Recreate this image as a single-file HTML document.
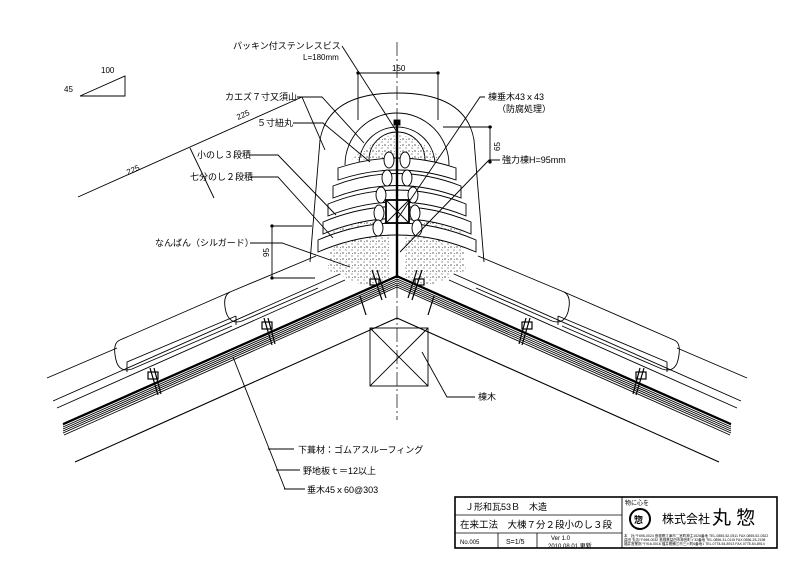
<!DOCTYPE html>
<html><head><meta charset="utf-8"><style>
html,body{margin:0;padding:0;background:#fff;}
svg{display:block;}
text{font-family:"Liberation Sans","Noto Sans CJK JP",sans-serif;fill:#000;}
</style></head><body>
<svg width="800" height="566" viewBox="0 0 800 566" xmlns="http://www.w3.org/2000/svg">
<defs>
<pattern id="dots" width="6" height="6" patternUnits="userSpaceOnUse">
<circle cx="1" cy="1" r="0.6" fill="#000"/><circle cx="4" cy="4" r="0.5" fill="#000"/><circle cx="4.5" cy="1.5" r="0.4" fill="#000"/>
</pattern>
<g id="half" stroke="#000" fill="none" stroke-width="0.9">
 <g stroke-width="0.9">
  <line x1="63" y1="425" x2="397" y2="277"/>
  <line x1="63" y1="427" x2="397" y2="279"/>
  <line x1="63" y1="429" x2="397" y2="281"/>
  <line x1="63" y1="431" x2="397" y2="283"/>
  <line x1="63" y1="433" x2="397" y2="285"/>
  <line x1="64" y1="435" x2="397" y2="287"/>
 </g>
 <line x1="63" y1="424" x2="397" y2="276" stroke-width="2"/>
 <line x1="75" y1="462" x2="397" y2="318" stroke-width="1.1"/>
 <line x1="53" y1="401" x2="340" y2="274"/>
 <line x1="57" y1="408" x2="345" y2="280"/>
 <line x1="47" y1="378" x2="117" y2="348"/>
 <path d="M120 340 Q112 343 116 360 Q119 373 132 369 L232 326"/>
 <line x1="120" y1="340" x2="230" y2="292"/>
 <path d="M127 372 L127 362 L236 316"/>
 <path d="M230 292 Q222 296 226 312 Q230 325 242 321 L318 288"/>
 <path d="M236 325 L236 316"/>
 <line x1="230" y1="292" x2="316" y2="256"/>
 <g stroke-width="1.2">
  <rect x="148" y="372" width="10" height="7"/>
  <line x1="150" y1="368" x2="158" y2="395"/><line x1="154" y1="368" x2="161" y2="394"/>
  <rect x="262" y="322" width="10" height="7"/>
  <line x1="264" y1="318" x2="272" y2="345"/><line x1="268" y1="318" x2="275" y2="344"/>
  <rect x="370" y="279" width="9" height="6"/>
  <line x1="372" y1="270" x2="382" y2="300"/><line x1="377" y1="270" x2="386" y2="298"/>
  <line x1="360" y1="296" x2="366" y2="315"/>
 </g>
 <path d="M310 262 L320 140 Q328 93 397 93"/>
</g>
</defs>

<path d="M330 232 L390 205 L390 282 L360 284 L328 270 Z" fill="url(#dots)"/>
<path d="M464 232 L404 205 L404 282 L434 284 L466 270 Z" fill="url(#dots)"/>
<path d="M352 160 Q397 110 442 160 Z" fill="url(#dots)"/>

<use href="#half"/>
<use href="#half" transform="translate(794,0) scale(-1,1)"/>

<g stroke="#000" fill="none" stroke-width="0.9">
 <path d="M345 165 A52 52 0 0 1 449 165"/>
 <path d="M359 165 A38 38 0 0 1 435 165"/>
 <path d="M369 160 A28 28 0 0 1 425 160"/>
 <g fill="#fff">
  <path d="M338 168 Q397 148 456 168 L456 180 Q397 160 338 180 Z"/>
  <path d="M333 186 Q397 161 461 186 L461 198 Q397 173 333 198 Z"/>
  <path d="M328 204 Q397 176 466 204 L466 216 Q397 188 328 216 Z"/>
  <path d="M323 222 Q397 191 471 222 L471 234 Q397 203 323 234 Z"/>
  <path d="M318 240 Q397 206 476 240 L476 252 Q397 218 318 252 Z"/>
 </g>
 <g fill="#fff">
  <ellipse cx="389" cy="160" rx="5" ry="8"/><ellipse cx="405" cy="160" rx="5" ry="8"/>
  <ellipse cx="387" cy="178" rx="5" ry="8"/><ellipse cx="407" cy="178" rx="5" ry="8"/>
  <ellipse cx="381" cy="195" rx="5" ry="8"/><ellipse cx="413" cy="195" rx="5" ry="8"/>
  <ellipse cx="379" cy="213" rx="5" ry="8"/><ellipse cx="415" cy="213" rx="5" ry="8"/>
  <ellipse cx="378" cy="228" rx="5" ry="8"/><ellipse cx="417" cy="228" rx="5" ry="8"/>
 </g>
 <rect x="386" y="200" width="23" height="23" fill="#fff" stroke-width="1.8"/>
 <line x1="386" y1="200" x2="409" y2="223"/><line x1="409" y1="200" x2="386" y2="223"/>
 <line x1="397" y1="42" x2="397" y2="420" stroke-dasharray="14,3,2,3" stroke-width="0.7"/>
 <line x1="397" y1="122" x2="397" y2="278" stroke-width="2.4"/>
 <rect x="394" y="120" width="6" height="5" fill="#000"/>
 <rect x="370" y="328" width="58" height="58"/>
 <line x1="370" y1="328" x2="428" y2="386"/><line x1="428" y1="328" x2="370" y2="386"/>
 <line x1="358" y1="73" x2="438" y2="73"/>
 <line x1="358" y1="73" x2="358" y2="120"/><line x1="438" y1="73" x2="438" y2="120"/>
 <circle cx="358" cy="73" r="1.2" fill="#000"/><circle cx="438" cy="73" r="1.2" fill="#000"/>
 <line x1="443" y1="127" x2="492" y2="127"/><line x1="490" y1="127" x2="490" y2="162"/>
 <circle cx="490" cy="127" r="1.2" fill="#000"/><circle cx="490" cy="162" r="1.2" fill="#000"/>
 <line x1="272" y1="226" x2="312" y2="226"/><line x1="272" y1="226" x2="272" y2="278"/><line x1="272" y1="278" x2="315" y2="278"/>
 <circle cx="272" cy="226" r="1.2" fill="#000"/><circle cx="272" cy="278" r="1.2" fill="#000"/>
 <path d="M80 96 L125 76 L125 96 Z"/>
 <line x1="78" y1="197" x2="302" y2="97"/>
 <line x1="190" y1="148" x2="214" y2="198"/>
 <path d="M342 46 L397 132"/>
 <path d="M297 97 L322 97 L364 143"/>
 <path d="M302 97 L325 150"/>
 <path d="M293 123 L323 123 L370 162"/>
 <path d="M250 155 L278 155 L336 215"/>
 <path d="M250 177 L278 177 L333 238"/>
 <path d="M250 243 L282 243 L350 267"/>
 <path d="M485 97 L480 97 L398 218"/>
 <path d="M500 160 L489 160 L400 252"/>
 <path d="M422 352 L447 397 L475 397"/>
 <path d="M233 357 L285 489"/>
 <path d="M268 449 L294 449"/><path d="M276 470 L300 470"/><path d="M284 489 L305 489"/>
</g>

<g font-size="9">
 <text x="233" y="49">パッキン付ステンレスビス</text>
 <text x="303" y="60" font-size="8">L=180mm</text>
 <text x="225" y="100">カエズ７寸又須山</text>
 <text x="257" y="126">５寸紐丸</text>
 <text x="197" y="158">小のし３段積</text>
 <text x="190" y="180">七分のし２段積</text>
 <text x="155" y="246">なんばん（シルガード）</text>
 <text x="488" y="100">棟垂木43ｘ43</text>
 <text x="497" y="112">（防腐処理）</text>
 <text x="502" y="163">強力棟H=95mm</text>
 <text x="478" y="400">棟木</text>
 <text x="298" y="453">下葺材：ゴムアスルーフィング</text>
 <text x="303" y="474">野地板ｔ＝12以上</text>
 <text x="307" y="493">垂木45ｘ60@303</text>
 <text x="392" y="71" font-size="8">150</text>
 <text x="101" y="73" font-size="8">100</text>
 <text x="64" y="92" font-size="8">45</text>
 <text transform="translate(500,151) rotate(-90)" font-size="8">65</text>
 <text transform="translate(269,257) rotate(-90)" font-size="8">95</text>
 <text transform="translate(128,175) rotate(-24)" font-size="8">225</text>
 <text transform="translate(238,120) rotate(-24)" font-size="8">225</text>
</g>

<g stroke="#000" fill="none">
 <rect x="455" y="497" width="322" height="51" stroke-width="1.6"/>
 <line x1="622" y1="497" x2="622" y2="548" stroke-width="0.9"/>
 <line x1="455" y1="515" x2="622" y2="515" stroke-width="0.8"/>
 <line x1="455" y1="533" x2="622" y2="533" stroke-width="0.8"/>
 <line x1="498" y1="533" x2="498" y2="548" stroke-width="0.8"/>
 <line x1="537" y1="533" x2="537" y2="548" stroke-width="0.8"/>
 <circle cx="640" cy="519" r="10" stroke-width="2"/>
</g>
<g>
 <text x="465" y="510" font-size="9">Ｊ形和瓦53Ｂ　木造</text>
 <text x="460" y="528" font-size="9.5">在来工法　大棟７分２段小のし３段</text>
 <text x="460" y="544" font-size="6">No.005</text>
 <text x="506" y="544" font-size="7">S=1/5</text>
 <text x="551" y="540" font-size="6">Ver 1.0</text>
 <text x="548" y="548" font-size="6">2010.08.01 更新</text>
 <text x="625" y="505" font-size="6">物に心を</text>
 <text x="634" y="523" font-size="9" font-weight="bold">惣</text>
 <text x="662" y="523" font-size="12">株式会社</text>
 <text x="712" y="524" font-size="19">丸 惣</text>
 <text x="624" y="537" font-size="3.5">本　社/〒695-0024 島根県江津市二宮町神主1526番地  TEL.0855-52-0511  FAX.0855-52-0522</text>
 <text x="624" y="541" font-size="3.5">益田 支店/〒698-0032 島根県益田市神田町イ32番地  TEL.0856-31-0115  FAX.0856-25-2198</text>
 <text x="624" y="545" font-size="3.5">福井営業所/〒916-0016 福井県鯖江市三六町6番地1  TEL.0778-54-8913  FAX.0778-54-8914</text>
</g>
</svg>
</body></html>
